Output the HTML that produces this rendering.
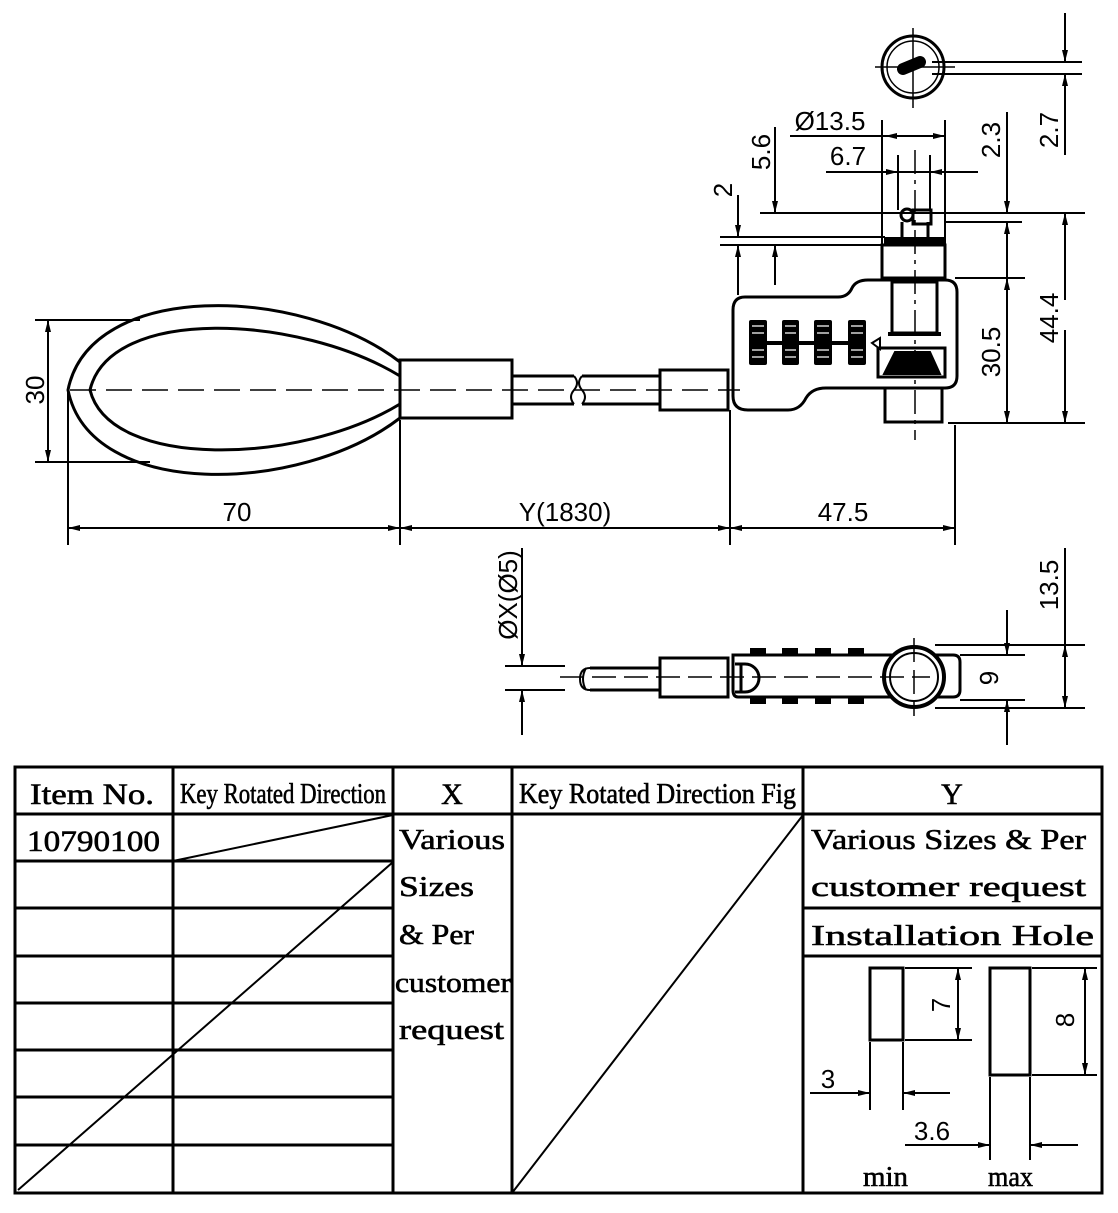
<!DOCTYPE html>
<html><head><meta charset="utf-8"><style>html,body{margin:0;padding:0;background:#fff}svg{display:block}</style></head>
<body>
<svg width="1118" height="1213" viewBox="0 0 1118 1213" xmlns="http://www.w3.org/2000/svg">
<defs>
<marker id="a" viewBox="0 0 12 6" refX="12" refY="3" markerWidth="12" markerHeight="6" markerUnits="userSpaceOnUse" orient="auto"><path d="M0,0 L12,3 L0,6 z" fill="#000"/></marker>
</defs>
<g fill="none" stroke="#000" stroke-width="2">
<path d="M400,362 C300,285 90,280 68,390 C90,500 300,495 400,418" stroke-width="3"/>
<path d="M400,376 C300,315 110,305 90,390 C110,470 300,465 400,404" stroke-width="3"/>
<rect x="400" y="360" width="112" height="58" stroke-width="3"/>
<path d="M512,376 H574 M512,404 H574 M582,376 H660 M582,404 H660" stroke-width="3"/>
<path d="M574,376 q6,7 0,14 q-6,7 0,14 M582,376 q-6,7 0,14 q6,7 0,14"/>
<rect x="660" y="370" width="68" height="40" stroke-width="3"/>
<path d="M70,390 H740" stroke-dasharray="26,10" stroke-width="1.5"/>
<path d="M745,297 H838 Q848,297 852,288 Q856,280 868,280 H945 Q957,280 957,292 V376 Q957,388 945,388 H826 Q812,388 806,398 Q800,410 788,410 H748 Q733,410 733,396 V310 Q733,297 745,297 Z" stroke-width="3"/>
<rect x="882" y="245" width="63" height="33" stroke-width="3"/>
<rect x="885" y="238" width="58" height="7" fill="#000"/>
<path d="M902,238 V222 M928,238 V222" stroke-width="3"/>
<circle cx="907" cy="215" r="6" stroke-width="3"/>
<rect x="913" y="210" width="18" height="14" stroke-width="3"/>
<rect x="892" y="282" width="45" height="51" stroke-width="3"/>
<path d="M888,334 H941" stroke-width="4"/>
<rect x="878" y="348" width="67" height="29" stroke-width="3"/>
<path d="M884,374 L895,352 H930 L940,374 Z" fill="#000"/>
<path d="M872,343 L880,338 V349 Z" stroke-width="2"/>
<rect x="885" y="388" width="57" height="34" stroke-width="3"/>
<path d="M915,150 V440" stroke-dasharray="24,6,4,6" stroke-width="1.5"/>
<path d="M749,343 H866" stroke-width="4"/>
<g fill="#000" stroke="none">
<rect x="749" y="320" width="18" height="45" rx="2"/><rect x="782" y="320" width="17" height="45" rx="2"/><rect x="814" y="320" width="18" height="45" rx="2"/><rect x="848" y="320" width="18" height="45" rx="2"/>
</g>
<g stroke="#fff" stroke-width="1.2">
<path d="M752,326 h12 M752,333 h12 M752,350 h12 M752,357 h12 M785,326 h11 M785,333 h11 M785,350 h11 M785,357 h11 M817,326 h12 M817,333 h12 M817,350 h12 M817,357 h12 M851,326 h12 M851,333 h12 M851,350 h12 M851,357 h12"/>
</g>
<circle cx="913" cy="67" r="31" stroke-width="3"/>
<circle cx="913" cy="67" r="26" stroke-width="1.5"/>
<path d="M875,67 H955 M913,28 V108" stroke-width="1.5"/>
<path d="M903,69 L920,62" stroke="#000" stroke-width="12" stroke-linecap="round"/>
<path d="M932,62 H1082 M932,74 H1082" stroke-width="2"/>
<path d="M1065,13 V62" marker-end="url(#a)"/>
<path d="M1065,155 V74" marker-end="url(#a)"/>
<path d="M790,136 H945 M826,172 H978"/>
<path d="M885,136 H945" marker-end="url(#a)"/><path d="M945,136 H885" marker-end="url(#a)"/>
<path d="M860,172 H898" marker-end="url(#a)"/><path d="M970,172 H930" marker-end="url(#a)"/>
<path d="M882,120 V245 M945,120 V245 M898,155 V210 M930,155 V210"/>
<path d="M1007,112 V213" marker-end="url(#a)"/><path d="M1007,278 V222" marker-end="url(#a)"/>
<path d="M1007,300 V278" marker-end="url(#a)"/><path d="M1007,400 V423" marker-end="url(#a)"/>
<path d="M1007,290 V410"/>
<path d="M760,213 H1085 M945,222 H1022 M955,278 H1025 M948,423 H1085"/>
<path d="M1065,300 V213" marker-end="url(#a)"/><path d="M1065,330 V423" marker-end="url(#a)"/>
<path d="M720,237 H885 M720,245 H885"/>
<path d="M738,195 V237" marker-end="url(#a)"/><path d="M738,295 V245" marker-end="url(#a)"/>
<path d="M775,127 V213" marker-end="url(#a)"/><path d="M775,285 V245" marker-end="url(#a)"/>
<path d="M35,320 H140 M35,462 H150"/>
<path d="M48,390 V320" marker-end="url(#a)"/><path d="M48,390 V462" marker-end="url(#a)"/>
<path d="M68,390 V545 M400,420 V545 M730,410 V545 M955,425 V545"/>
<path d="M234,528 H68" marker-end="url(#a)"/><path d="M234,528 H400" marker-end="url(#a)"/>
<path d="M565,528 H400" marker-end="url(#a)"/><path d="M565,528 H730" marker-end="url(#a)"/>
<path d="M843,528 H730" marker-end="url(#a)"/><path d="M843,528 H955" marker-end="url(#a)"/>
<path d="M590,668 H660 M590,690 H660" stroke-width="3"/>
<path d="M590,668 Q580,668 580,679 Q580,690 590,690 M586,668 Q580,679 586,690" stroke-width="2"/>
<rect x="660" y="658" width="68" height="39" stroke-width="3"/>
<path d="M733,655 H953 Q960,655 960,662 V690 Q960,697 953,697 H738 Q733,697 733,690 Z" stroke-width="3"/>
<path d="M735,664 H745 A14,14 0 0 1 745,692 H735 M741,664 V692" stroke-width="3"/>
<g fill="#000" stroke="none"><rect x="750" y="648" width="16" height="7"/><rect x="782" y="648" width="16" height="7"/><rect x="815" y="648" width="16" height="7"/><rect x="848" y="648" width="16" height="7"/>
<rect x="750" y="697" width="16" height="7"/><rect x="782" y="697" width="16" height="7"/><rect x="815" y="697" width="16" height="7"/><rect x="848" y="697" width="16" height="7"/></g>
<circle cx="914" cy="677" r="30" fill="#fff" stroke-width="4"/>
<circle cx="914" cy="677" r="24" stroke-width="2"/>
<path d="M560,677 H930 M914,638 V716" stroke-dasharray="24,8" stroke-width="1.5"/>
<path d="M505,666 H565 M505,690 H565"/>
<path d="M522,548 V666" marker-end="url(#a)"/><path d="M522,735 V690" marker-end="url(#a)"/>
<path d="M960,655 H1025 M960,700 H1025 M935,645 H1085 M935,708 H1085"/>
<path d="M1007,610 V655" marker-end="url(#a)"/><path d="M1007,745 V700" marker-end="url(#a)"/>
<path d="M1065,548 V708 M1065,676 V645" marker-end="url(#a)"/><path d="M1065,676 V708" marker-end="url(#a)"/>
<rect x="15" y="767" width="1087" height="426" stroke-width="3"/>
<path d="M173,767 V1193 M393,767 V1193 M512,767 V1193 M803,767 V1193" stroke-width="3"/>
<path d="M15,814 H1102" stroke-width="3"/>
<path d="M15,861 H393 M15,908 H393 M15,956 H393 M15,1003 H393 M15,1050 H393 M15,1097 H393 M15,1145 H393" stroke-width="3"/>
<path d="M803,908 H1102 M803,956 H1102" stroke-width="3"/>
<path d="M173,861 L393,815 M18,1190 L393,862 M512,1193 L803,815" stroke-width="2"/>
<rect x="870" y="968" width="33" height="72" stroke-width="3"/>
<rect x="990" y="968" width="40" height="107" stroke-width="3"/>
<path d="M905,968 H972 M905,1040 H972 M1032,968 H1097 M1032,1075 H1097"/>
<path d="M958,1004 V968" marker-end="url(#a)"/><path d="M958,1004 V1040" marker-end="url(#a)"/>
<path d="M1085,1020 V968" marker-end="url(#a)"/><path d="M1085,1020 V1075" marker-end="url(#a)"/>
<path d="M870,1042 V1110 M903,1042 V1110 M990,1077 V1160 M1030,1077 V1160"/>
<path d="M810,1093 H870" marker-end="url(#a)"/><path d="M950,1093 H903" marker-end="url(#a)"/>
<path d="M905,1145 H990" marker-end="url(#a)"/><path d="M1078,1145 H1030" marker-end="url(#a)"/>
</g>
<g font-family="Liberation Sans, sans-serif" font-size="26" fill="#000">
<text x="237" y="521" text-anchor="middle">70</text>
<text x="565" y="521" text-anchor="middle">Y(1830)</text>
<text x="843" y="521" text-anchor="middle">47.5</text>
<text x="830" y="130" text-anchor="middle">Ø13.5</text>
<text x="848" y="165" text-anchor="middle">6.7</text>
<text x="828" y="1088" text-anchor="middle">3</text>
<text x="932" y="1140" text-anchor="middle">3.6</text>
<text transform="translate(44,390) rotate(-90)" text-anchor="middle">30</text>
<text transform="translate(732,190) rotate(-90)" text-anchor="middle">2</text>
<text transform="translate(770,152) rotate(-90)" text-anchor="middle">5.6</text>
<text transform="translate(1000,140) rotate(-90)" text-anchor="middle">2.3</text>
<text transform="translate(1058,130) rotate(-90)" text-anchor="middle">2.7</text>
<text transform="translate(1000,352) rotate(-90)" text-anchor="middle">30.5</text>
<text transform="translate(1058,318) rotate(-90)" text-anchor="middle">44.4</text>
<text transform="translate(517,595) rotate(-90)" text-anchor="middle">ØX(Ø5)</text>
<text transform="translate(998,678) rotate(-90)" text-anchor="middle">9</text>
<text transform="translate(1058,585) rotate(-90)" text-anchor="middle">13.5</text>
<text transform="translate(950,1005) rotate(-90)" text-anchor="middle">7</text>
<text transform="translate(1074,1020) rotate(-90)" text-anchor="middle">8</text>
</g>
<g font-family="Liberation Serif, serif" fill="#000" stroke="#000" stroke-width="0.6">
<text x="30" y="804" font-size="30" textLength="124" lengthAdjust="spacingAndGlyphs">Item No.</text>
<text x="180" y="803" font-size="28" textLength="206" lengthAdjust="spacingAndGlyphs">Key Rotated Direction</text>
<text x="452" y="804" font-size="30" text-anchor="middle">X</text>
<text x="519" y="803" font-size="28" textLength="277" lengthAdjust="spacingAndGlyphs">Key Rotated Direction Fig</text>
<text x="952" y="804" font-size="30" text-anchor="middle">Y</text>
<text x="27" y="851" font-size="30" textLength="133" lengthAdjust="spacingAndGlyphs">10790100</text>
<g font-size="29">
<text x="399" y="849" textLength="106" lengthAdjust="spacingAndGlyphs">Various</text>
<text x="399" y="896" textLength="75" lengthAdjust="spacingAndGlyphs">Sizes</text>
<text x="399" y="944" textLength="75" lengthAdjust="spacingAndGlyphs">&amp; Per</text>
<text x="395" y="992" textLength="116" lengthAdjust="spacingAndGlyphs">customer</text>
<text x="399" y="1039" textLength="105" lengthAdjust="spacingAndGlyphs">request</text>
<text x="811" y="849" textLength="275" lengthAdjust="spacingAndGlyphs">Various Sizes &amp; Per</text>
<text x="811" y="896" textLength="275" lengthAdjust="spacingAndGlyphs">customer request</text>
<text x="811" y="945" textLength="283" lengthAdjust="spacingAndGlyphs">Installation Hole</text>
<text x="863" y="1186" textLength="45" lengthAdjust="spacingAndGlyphs">min</text>
<text x="988" y="1186" textLength="45" lengthAdjust="spacingAndGlyphs">max</text>
</g>
</g>
</svg>
</body></html>
